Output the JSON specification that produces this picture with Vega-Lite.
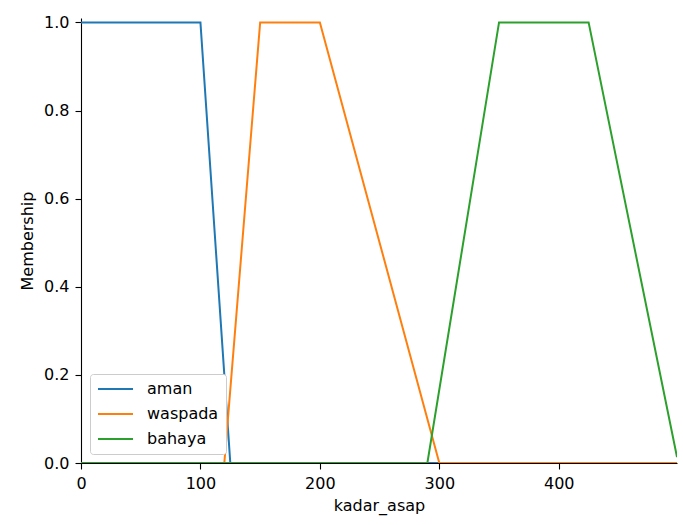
{
  "$schema": "https://vega.github.io/schema/vega-lite/v6.json",
  "autosize": {"type": "none"},
  "width": 596,
  "height": 445,
  "padding": {"left": 81, "top": 18, "right": 6, "bottom": 62},
  "background": "white",
  "config": {
    "view": {"stroke": null},
    "font": "DejaVu Sans",
    "axis": {
      "grid": false,
      "domainColor": "#000000",
      "domainWidth": 1.1,
      "tickColor": "#000000",
      "tickSize": 6,
      "tickWidth": 1.1,
      "labelFont": "DejaVu Sans",
      "labelFontSize": 16,
      "labelColor": "#000000",
      "labelFlush": false,
      "titleFont": "DejaVu Sans",
      "titleFontSize": 16,
      "titleFontWeight": "normal",
      "titleColor": "#000000"
    }
  },
  "data": {
    "values": [
      {"term": "aman", "x": 0, "m": 1},
      {"term": "aman", "x": 100, "m": 1},
      {"term": "aman", "x": 125, "m": 0},
      {"term": "aman", "x": 499, "m": 0},
      {"term": "waspada", "x": 0, "m": 0},
      {"term": "waspada", "x": 120, "m": 0},
      {"term": "waspada", "x": 150, "m": 1},
      {"term": "waspada", "x": 200, "m": 1},
      {"term": "waspada", "x": 300, "m": 0},
      {"term": "waspada", "x": 499, "m": 0},
      {"term": "bahaya", "x": 0, "m": 0},
      {"term": "bahaya", "x": 290, "m": 0},
      {"term": "bahaya", "x": 350, "m": 1},
      {"term": "bahaya", "x": 425, "m": 1},
      {"term": "bahaya", "x": 499, "m": 0.0133}
    ]
  },
  "encoding": {
    "x": {
      "field": "x", "type": "quantitative",
      "scale": {"domain": [0, 499], "nice": false, "zero": false},
      "axis": {"values": [0, 100, 200, 300, 400], "title": "kadar_asap", "labelPadding": 6, "titlePadding": 6}
    },
    "y": {
      "field": "m", "type": "quantitative",
      "scale": {"domain": [0, 1.01], "nice": false},
      "axis": {"values": [0, 0.2, 0.4, 0.6, 0.8, 1.0], "format": ".1f", "title": "Membership", "labelPadding": 6, "titlePadding": 8}
    },
    "color": {
      "field": "term", "type": "nominal",
      "scale": {"domain": ["aman", "waspada", "bahaya"], "range": ["#1f77b4", "#ff7f0e", "#2ca02c"]},
      "legend": {
        "title": null,
        "orient": "bottom-left",
        "offset": 9,
        "symbolType": "M-1.4,0H5.6",
        "symbolSize": 100,
        "symbolStrokeWidth": 2,
        "labelFont": "DejaVu Sans",
        "labelFontSize": 16,
        "labelColor": "#000000",
        "labelOffset": 34,
        "rowPadding": 9,
        "padding": 7,
        "fillColor": "white",
        "strokeColor": "#cccccc",
        "cornerRadius": 3
      }
    }
  },
  "layer": [
    {"transform": [{"filter": "datum.term === 'aman'"}], "mark": {"type": "line", "strokeWidth": 2, "clip": true}},
    {"transform": [{"filter": "datum.term === 'waspada'"}], "mark": {"type": "line", "strokeWidth": 2, "clip": true}},
    {"transform": [{"filter": "datum.term === 'bahaya'"}], "mark": {"type": "line", "strokeWidth": 2, "clip": true}}
  ]
}
